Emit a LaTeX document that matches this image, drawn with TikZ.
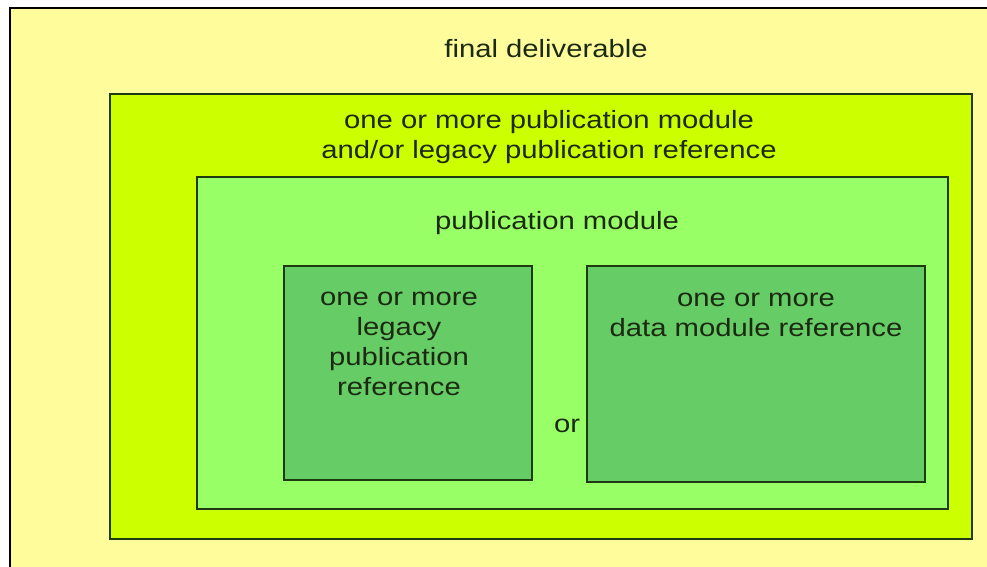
\documentclass[tikz,border=0pt]{standalone}
\usepackage{fontspec}
\setmainfont[FakeStretch=1.17]{Liberation Sans}
\definecolor{paleyellow}{HTML}{FFFC9C}
\definecolor{lime}{HTML}{CCFF00}
\definecolor{lightgreen}{HTML}{99FF66}
\definecolor{midgreen}{HTML}{66CC66}
\definecolor{edge}{HTML}{1E3A10}
\definecolor{ink}{HTML}{1C2A12}
\begin{document}
\begin{tikzpicture}[x=1pt,y=-1pt,
  panel/.style={draw=edge,line width=1.5pt},
  % multi-line labels are placed by the baseline of their last line
  label/.style={font=\fontsize{25}{30}\selectfont,text=ink,align=center,inner sep=0pt,anchor=base}]
\useasboundingbox (0,0) rectangle (987,567);
% page background and outer frame (continues past the right and bottom edges)
\fill[white] (0,0) rectangle (987,567);
\path[fill=paleyellow,draw=black,line width=2pt] (10,8) rectangle (1000,580);
% nested containers
\path[panel,fill=lime] (110,94) rectangle (972,539);
\path[panel,fill=lightgreen] (197,177) rectangle (948,509);
\path[panel,fill=midgreen] (284,266) rectangle (532,480);
\path[panel,fill=midgreen] (587,266) rectangle (925,482);
% labels
\node[label] (fd) at (546,58) {final deliverable};
\node[label] (pm1) at (549,158) {one or more publication module\\and/or legacy publication reference};
\node[label] (pm) at (557,229) {publication module};
\node[label] (lpr) at (399,395) {one or more\\legacy\\publication\\reference};
\node[label] (or) at (567,432) {or};
\node[label] (dmr) at (756,336) {one or more\\data module reference};
\end{tikzpicture}
\end{document}
